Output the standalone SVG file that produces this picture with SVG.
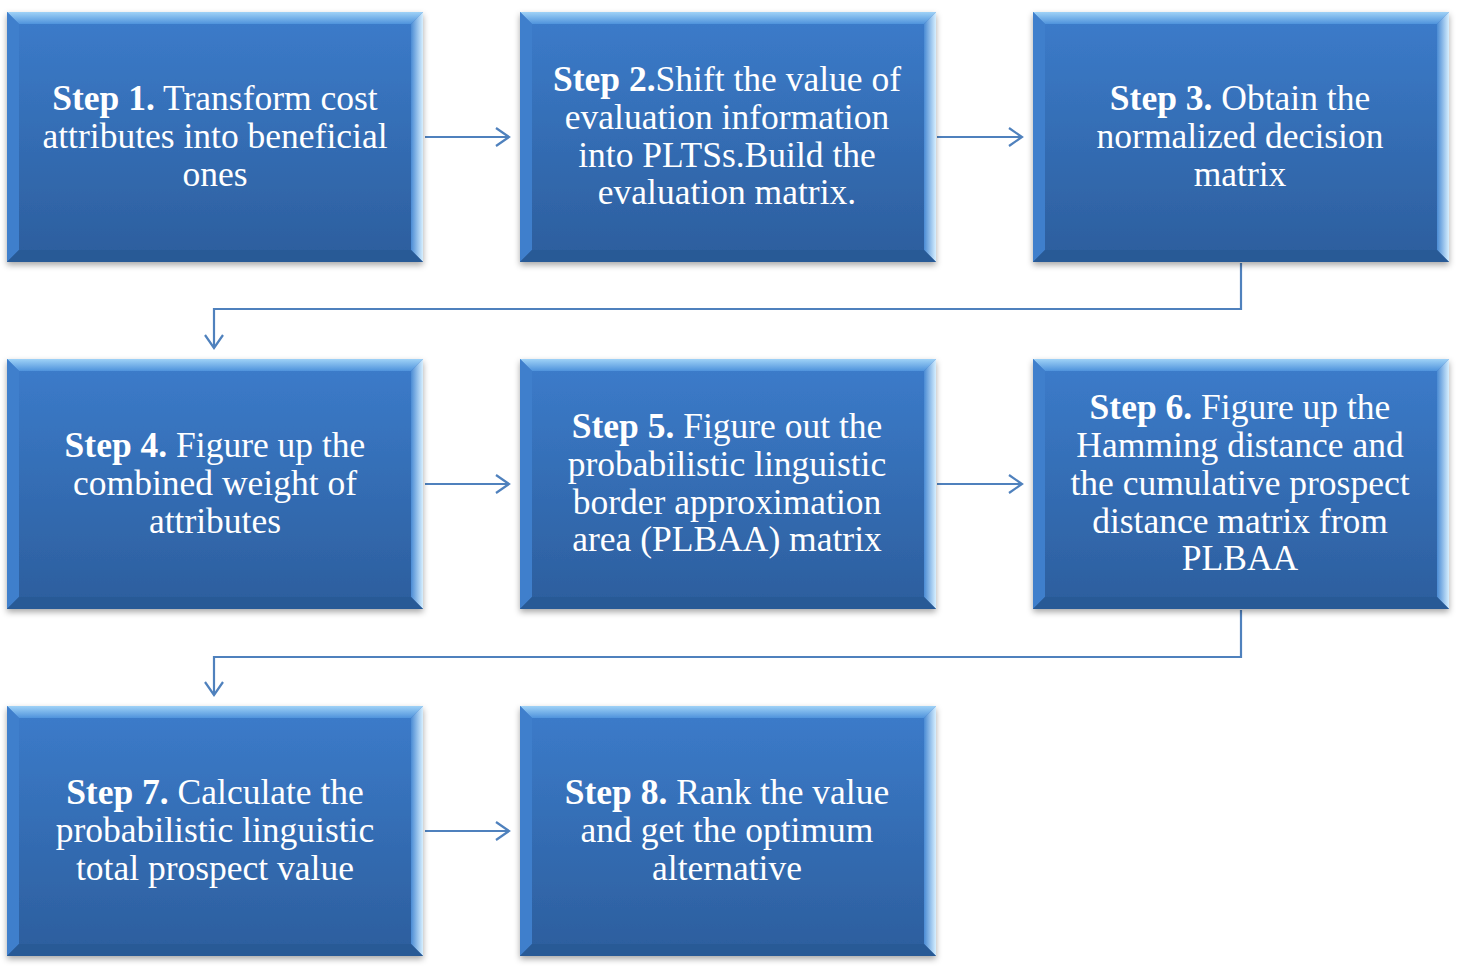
<svg xmlns="http://www.w3.org/2000/svg" width="1464" height="967" viewBox="0 0 1464 967">
<defs>
<linearGradient id="face" x1="0" y1="0" x2="0" y2="1">
<stop offset="0" stop-color="#3c7ccb"/>
<stop offset="1" stop-color="#2c5e9d"/>
</linearGradient>
<linearGradient id="topb" x1="0" y1="0" x2="0" y2="1">
<stop offset="0" stop-color="#9fd2f7"/>
<stop offset="1" stop-color="#4f93dc"/>
</linearGradient>
<linearGradient id="rightb" x1="0" y1="0" x2="1" y2="0">
<stop offset="0" stop-color="#4a8bd4"/>
<stop offset="1" stop-color="#d6efff"/>
</linearGradient>
<filter id="sh" x="-5%" y="-5%" width="110%" height="115%">
<feDropShadow dx="0" dy="3" stdDeviation="3" flood-color="#000" flood-opacity="0.35"/>
</filter>
<marker id="arr" markerWidth="18" markerHeight="20" refX="14" refY="10" orient="auto" markerUnits="userSpaceOnUse">
<path d="M1,1 L14,10 L1,19" fill="none" stroke="#4f81bd" stroke-width="2.2"/>
</marker>
<g id="box">
<rect x="0" y="0" width="416" height="250" fill="url(#face)" filter="url(#sh)"/>
<polygon points="0,0 416,0 404,12 12,12" fill="url(#topb)"/>
<polygon points="0,0 12,12 12,238 0,250" fill="#3f7fcc"/>
<polygon points="416,0 416,250 404,238 404,12" fill="url(#rightb)"/>
<polygon points="0,250 12,238 404,238 416,250" fill="#285a96"/>
</g>
</defs>
<style>
.t{font-family:"Liberation Serif","Times New Roman",serif;font-size:35.5px;fill:#ffffff;text-anchor:middle}
.b{font-weight:bold}
.c{fill:none;stroke:#4f81bd;stroke-width:2.2}
</style>
<g id="connectors">
<line class="c" x1="425" y1="137" x2="509" y2="137" marker-end="url(#arr)"/>
<line class="c" x1="937" y1="137" x2="1022" y2="137" marker-end="url(#arr)"/>
<polyline class="c" points="1241,263 1241,309 214,309 214,348" marker-end="url(#arr)"/>
<line class="c" x1="425" y1="484" x2="509" y2="484" marker-end="url(#arr)"/>
<line class="c" x1="937" y1="484" x2="1022" y2="484" marker-end="url(#arr)"/>
<polyline class="c" points="1241,610 1241,657 214,657 214,695" marker-end="url(#arr)"/>
<line class="c" x1="425" y1="831" x2="509" y2="831" marker-end="url(#arr)"/>
</g>
<g id="step1">
<use href="#box" x="7" y="12"/>
<text class="t"><tspan x="215" y="110"><tspan class="b">Step 1.</tspan> Transform cost</tspan><tspan x="215" y="148">attributes into beneficial</tspan><tspan x="215" y="186">ones</tspan></text>
</g>
<g id="step2">
<use href="#box" x="520" y="12"/>
<text class="t"><tspan x="727" y="91"><tspan class="b">Step 2.</tspan>Shift the value of</tspan><tspan x="727" y="129">evaluation information</tspan><tspan x="727" y="167">into PLTSs.Build the</tspan><tspan x="727" y="204">evaluation matrix.</tspan></text>
</g>
<g id="step3">
<use href="#box" x="1033" y="12"/>
<text class="t"><tspan x="1240" y="110"><tspan class="b">Step 3.</tspan> Obtain the</tspan><tspan x="1240" y="148">normalized decision</tspan><tspan x="1240" y="186">matrix</tspan></text>
</g>
<g id="step4">
<use href="#box" x="7" y="359"/>
<text class="t"><tspan x="215" y="457"><tspan class="b">Step 4.</tspan> Figure up the</tspan><tspan x="215" y="495">combined weight of</tspan><tspan x="215" y="533">attributes</tspan></text>
</g>
<g id="step5">
<use href="#box" x="520" y="359"/>
<text class="t"><tspan x="727" y="438"><tspan class="b">Step 5.</tspan> Figure out the</tspan><tspan x="727" y="476">probabilistic linguistic</tspan><tspan x="727" y="514">border approximation</tspan><tspan x="727" y="551">area (PLBAA) matrix</tspan></text>
</g>
<g id="step6">
<use href="#box" x="1033" y="359"/>
<text class="t"><tspan x="1240" y="419"><tspan class="b">Step 6.</tspan> Figure up the</tspan><tspan x="1240" y="457">Hamming distance and</tspan><tspan x="1240" y="495">the cumulative prospect</tspan><tspan x="1240" y="533">distance matrix from</tspan><tspan x="1240" y="570">PLBAA</tspan></text>
</g>
<g id="step7">
<use href="#box" x="7" y="706"/>
<text class="t"><tspan x="215" y="804"><tspan class="b">Step 7.</tspan> Calculate the</tspan><tspan x="215" y="842">probabilistic linguistic</tspan><tspan x="215" y="880">total prospect value</tspan></text>
</g>
<g id="step8">
<use href="#box" x="520" y="706"/>
<text class="t"><tspan x="727" y="804"><tspan class="b">Step 8.</tspan> Rank the value</tspan><tspan x="727" y="842">and get the optimum</tspan><tspan x="727" y="880">alternative</tspan></text>
</g>
</svg>
